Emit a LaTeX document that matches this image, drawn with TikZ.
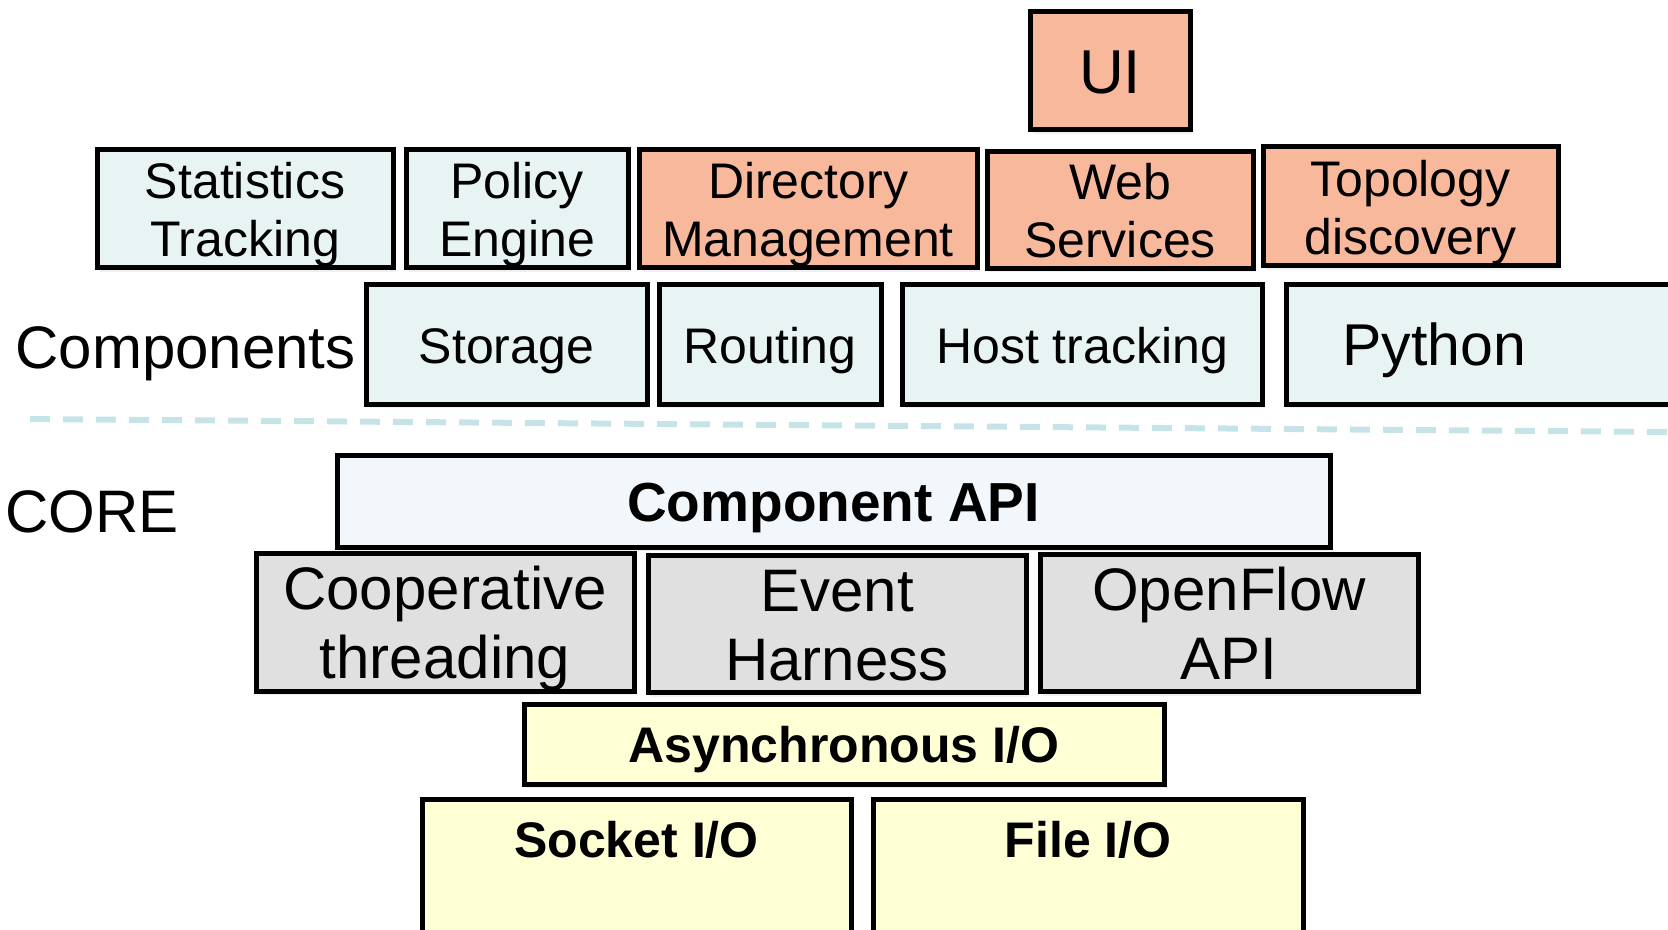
\documentclass[tikz,border=0pt]{standalone}
\usepackage{fontspec}
\setmainfont{Liberation Sans}
\usetikzlibrary{shadows}
\definecolor{cyanfill}{HTML}{E8F4F4}
\definecolor{salmonfill}{HTML}{F8B89C}
\definecolor{grayfill}{HTML}{E0E0E0}
\definecolor{yellowfill}{HTML}{FFFFD6}
\definecolor{apifill}{HTML}{F1F7FA}
\definecolor{dashcol}{HTML}{C6E4E8}
\newcommand{\fsA}{\fontsize{25}{29}\selectfont}
\newcommand{\fsB}{\fontsize{30}{34.5}\selectfont}
\begin{document}
\begin{tikzpicture}[x=0.5pt,y=-0.5pt,
  box/.style={draw=black, line width=2.5pt, inner sep=0pt, align=center,
    drop shadow={opacity=0.12, shadow xshift=1.5pt, shadow yshift=-2pt}},
  sz/.style 2 args={minimum width=#1*0.5pt, minimum height=#2*0.5pt},
  cyanbox/.style={box, fill=cyanfill, font=\fsA, text height=24pt, text depth=5.2pt},
  salmonbox/.style={box, fill=salmonfill, font=\fsA, text height=24pt, text depth=5.2pt},
  twoA/.style={text height=53pt},
  graybox/.style={box, fill=grayfill, font=\fsB, text height=62.5pt, text depth=6.3pt},
  yellowbox/.style={box, fill=yellowfill, font=\fsA\bfseries, text height=24pt},
  apibox/.style={box, fill=apifill, font=\fontsize{27.5}{32}\selectfont\bfseries, text height=26.5pt},
  lbl/.style={inner sep=0pt, font=\fsB},
  sep/.style={draw=dashcol, line width=3pt, dash pattern=on 10pt off 6.5pt}]
\useasboundingbox (0,0) rectangle (1668,930);
\clip (0,0) rectangle (1668,930);
% top layer
\node[salmonbox, sz={160}{118}, font=\fontsize{31}{35}\selectfont, text height=22.5pt, text depth=0pt] (ui) at (1110,71) {UI};
\node[cyanbox, twoA, sz={296}{118}] (stat) at (245,209) {Statistics\\Tracking};
\node[cyanbox, twoA, sz={222}{118}] (policy) at (517,209) {Policy\\Engine};
\node[salmonbox, twoA, sz={338}{118}] (dir) at (808,209) {Directory\\Management};
\node[salmonbox, twoA, sz={266}{112}] (web) at (1120,210) {Web\\Services};
\node[salmonbox, twoA, sz={295}{119}] (topo) at (1410.5,206.5) {Topology\\discovery};
% components row
\node[lbl, anchor=base west] (complbl) at (15,368) {Components};
\node[cyanbox, sz={281}{119}] (storage) at (506.5,344.5) {Storage};
\node[cyanbox, sz={222}{119}] (routing) at (770,344.5) {Routing};
\node[cyanbox, sz={360}{119}] (host) at (1082,344.5) {Host tracking};
\node[cyanbox, anchor=west, text width=170pt, align=left, inner xsep=28pt,
  minimum height=59.5pt, font=\fontsize{29.5}{34}\selectfont, text height=27.5pt, text depth=6.2pt] (python) at (1284,344.5) {Python};
% separator
\coordinate (sepl) at (30,419);
\coordinate (sepr) at (1668,432);
\draw[sep] (sepl) -- (sepr);
% core
\node[lbl, anchor=base west] (corelbl) at (5,532) {CORE};
\node[apibox, sz={993}{92}] (api) at (833.5,501) {Component API};
\node[graybox, sz={378}{135}] (coop) at (445,622.5) {Cooperative\\threading};
\node[graybox, sz={378}{132}] (event) at (837,624) {Event\\Harness};
\node[graybox, sz={378}{134}] (openflow) at (1229,623) {OpenFlow\\API};
\node[yellowbox, sz={640}{80}] (async) at (844,744) {Asynchronous I/O};
\node[yellowbox, anchor=north, minimum width=214.5pt, text height=18pt, text depth=62pt, inner ysep=11pt] (socket) at (636.5,797) {Socket I/O};
\node[yellowbox, anchor=north, minimum width=215pt, text height=18pt, text depth=62pt, inner ysep=11pt] (file) at (1088,797) {File I/O};
\end{tikzpicture}
\end{document}
